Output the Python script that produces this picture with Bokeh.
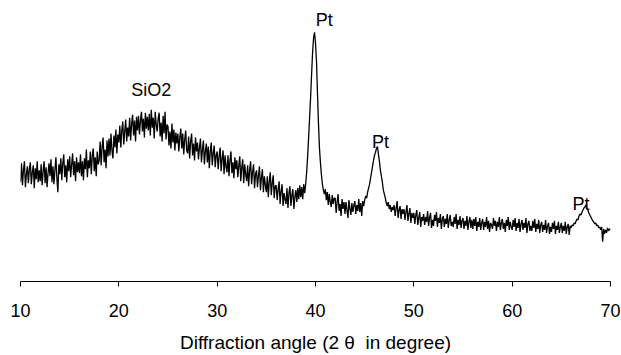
from bokeh.plotting import figure
from bokeh.models import Range1d, FixedTicker, ColumnDataSource
from bokeh.core.properties import value
from bokeh.embed import file_html
from bokeh.resources import INLINE

# Diffraction angle 2-theta, 10.0 .. 70.0 in 0.1 degree steps
start_angle = 10.0
step = 0.1

intensity = [
    100, 119, 97, 112, 121, 95, 108, 116, 99, 113,
    120, 98, 110, 117, 94, 114, 103, 121, 100, 112,
    101, 118, 97, 111, 121, 99, 115, 95, 109, 119,
    106, 123, 100, 116, 98, 112, 125, 104, 90, 118,
    108, 124, 102, 119, 128, 105, 117, 100, 123, 111,
    126, 105, 118, 129, 107, 121, 101, 125, 110, 120,
    109, 128, 106, 121, 102, 124, 113, 133, 105, 122,
    114, 131, 108, 127, 134, 111, 125, 106, 131, 118,
    122, 141, 117, 136, 145, 120, 133, 114, 142, 126,
    144, 127, 149, 132, 124, 147, 135, 153, 129, 148,
    140, 157, 135, 152, 161, 138, 151, 163, 141, 155,
    146, 165, 142, 159, 168, 147, 162, 141, 166, 152,
    167, 148, 162, 171, 151, 164, 145, 170, 154, 166,
    152, 169, 147, 173, 155, 165, 144, 171, 158, 151,
    164, 170, 146, 160, 141, 167, 149, 171, 143, 158,
    156, 137, 151, 134, 159, 140, 153, 132, 150, 139,
    149, 131, 145, 154, 134, 149, 128, 143, 152, 132,
    129, 146, 124, 141, 149, 127, 139, 122, 145, 131,
    140, 123, 135, 144, 120, 133, 142, 118, 131, 139,
    120, 136, 114, 131, 140, 117, 129, 137, 115, 127,
    131, 113, 126, 135, 111, 124, 132, 108, 127, 116,
    110, 127, 106, 122, 131, 109, 120, 104, 125, 113,
    122, 105, 117, 126, 101, 115, 123, 99, 118, 108,
    101, 117, 96, 112, 121, 98, 110, 118, 94, 108,
    112, 95, 107, 116, 92, 105, 113, 90, 106, 97,
    90, 106, 85, 101, 110, 87, 99, 107, 84, 96,
    97, 82, 93, 101, 78, 91, 98, 76, 89, 83,
    78, 94, 74, 89, 96, 76, 87, 93, 73, 85,
    92, 80, 94, 83, 97, 85, 95, 83, 98, 89,
    98, 110, 126, 145, 165, 185, 208, 230, 245, 251,
    240, 222, 190, 160, 135, 120, 108, 98, 92, 88,
    93, 82, 90, 77, 88, 80, 75, 87, 78, 84,
    84, 69, 80, 88, 71, 78, 66, 83, 73, 80,
    68, 80, 72, 64, 82, 73, 67, 79, 70, 77,
    81, 68, 77, 71, 83, 70, 79, 66, 81, 76,
    82, 86, 84, 90, 94, 98, 104, 110, 116, 122,
    127, 130, 134, 136, 128, 121, 112, 106, 100, 92,
    88, 84, 79, 76, 80, 73, 77, 70, 75, 72,
    77, 66, 74, 81, 64, 72, 76, 63, 73, 68,
    73, 62, 70, 77, 61, 68, 74, 59, 69, 64,
    69, 58, 67, 72, 57, 64, 70, 55, 65, 61,
    68, 57, 65, 60, 71, 56, 64, 69, 54, 62,
    56, 67, 61, 70, 55, 64, 59, 68, 53, 63,
    66, 55, 63, 58, 68, 54, 62, 67, 56, 60,
    55, 65, 58, 68, 53, 62, 57, 66, 54, 61,
    64, 53, 61, 56, 66, 52, 60, 65, 54, 62,
    53, 63, 56, 65, 51, 60, 55, 64, 52, 59,
    63, 52, 60, 55, 65, 53, 61, 50, 59, 57,
    53, 64, 56, 61, 51, 60, 55, 65, 52, 59,
    63, 53, 59, 50, 62, 56, 65, 52, 60, 55,
    52, 62, 55, 64, 51, 59, 54, 63, 50, 58,
    62, 52, 59, 54, 64, 49, 58, 61, 51, 56,
    51, 61, 54, 63, 50, 58, 53, 62, 49, 57,
    60, 50, 57, 52, 62, 49, 56, 59, 48, 55,
    50, 59, 53, 61, 48, 56, 52, 60, 49, 55,
    59, 49, 56, 51, 60, 48, 55, 58, 47, 56,
    54, 57, 56, 59, 58, 61, 63, 62, 66, 68,
    67, 70, 72, 74, 75, 77, 74, 72, 69, 67,
    65, 63, 61, 60, 58, 59, 56, 57, 54, 55,
    52, 55, 40, 53, 48, 52, 49, 54, 51, 53,
    52,
]

angles = [round(start_angle + i * step, 1) for i in range(len(intensity))]

x_ticks = [10, 20, 30, 40, 50, 60, 70]

label_texts = ["SiO2", "Pt", "Pt", "Pt"]
label_x = [23.3, 40.9, 46.6, 67.0]
label_y = [193, 263, 140, 78]

x_title = "Diffraction angle (2\u00a0\u03b8\u00a0\u00a0in degree)"

FONT = "Liberation Sans"

p = figure(width=621, height=355, output_backend="svg", toolbar_location=None,
           x_range=Range1d(10, 70), y_range=Range1d(0, 283),
           y_axis_location=None,
           min_border_left=20, min_border_right=11, min_border_top=0,
           min_border_bottom=72)
p.outline_line_color = None
p.xgrid.visible = False
p.ygrid.visible = False
p.background_fill_color = "white"
p.border_fill_color = "white"

src = ColumnDataSource(dict(x=angles, y=intensity))
p.line("x", "y", source=src, line_color="black", line_width=1.3)

lsrc = ColumnDataSource(dict(x=label_x, y=label_y, t=label_texts))
p.text("x", "y", text="t", source=lsrc, text_align="center",
       text_baseline="middle", text_font=value(FONT),
       text_font_size="18px", text_color="black")

ax = p.xaxis[0]
ax.ticker = FixedTicker(ticks=x_ticks)
ax.axis_line_color = "black"
ax.axis_line_width = 1
ax.major_tick_line_color = "black"
ax.major_tick_out = 5
ax.major_tick_in = 0
ax.minor_tick_line_color = None
ax.major_label_text_font = FONT
ax.major_label_text_font_size = "18px"
ax.major_label_text_color = "black"
ax.major_label_standoff = 17
ax.axis_label = x_title
ax.axis_label_text_font = FONT
ax.axis_label_text_font_size = "19px"
ax.axis_label_text_font_style = "normal"
ax.axis_label_text_color = "black"
ax.axis_label_standoff = 12

open("out.html", "w").write(file_html(p, INLINE))
